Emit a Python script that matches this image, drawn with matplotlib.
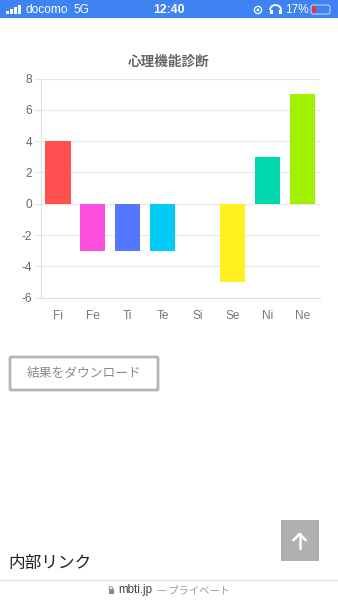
import matplotlib
matplotlib.use('Agg')
import matplotlib.pyplot as plt
from matplotlib.patches import Rectangle, FancyBboxPatch, Circle, Arc

plt.rcParams['font.family'] = ['Noto Sans CJK JP', 'DejaVu Sans']
plt.rcParams['axes.unicode_minus'] = False

# chart values
labels = ['Fi', 'Fe', 'Ti', 'Te', 'Si', 'Se', 'Ni', 'Ne']
values = [4, -3, -3, -3, 0, -5, 3, 7]
colors = ['#ff4f4f', '#ff4de0', '#5577ff', '#00ccf5', '#cccccc', '#fff020', '#00d8ae', '#a0f000']
yticks = [-6, -4, -2, 0, 2, 4, 6, 8]

fig = plt.figure(figsize=(3.38, 6.0), dpi=100)

# page layer, in pixels
page = fig.add_axes([0, 0, 1, 1])
page.set_xlim(0, 338)
page.set_ylim(600, 0)
page.axis('off')

# status bar
page.add_patch(Rectangle((0, 0), 338, 18, color='#3f82f2', lw=0))
for x, top in zip([6, 10, 14, 18], [10.5, 9, 7, 5]):
    page.add_patch(Rectangle((x, top), 3.2, 13.5 - top, color='white', lw=0))
page.text(25, 10, 'docomo', color='white', fontsize=8.6, va='center', family=['Liberation Sans'])
page.text(74, 10, '5G', color='white', fontsize=8.6, va='center', family=['Liberation Sans'])
page.text(169, 10, '12:40', color='white', fontsize=8.8, va='center', ha='center', weight='bold', family=['Liberation Sans'])
page.add_patch(Circle((258, 10), 3.6, fill=False, ec='white', lw=0.9))
page.add_patch(Circle((258, 10), 1.4, color='white', lw=0))
page.add_patch(Arc((275.5, 10), 11, 10, theta1=180, theta2=360, color='white', lw=1.3))
page.add_patch(Rectangle((269.5, 9.5), 3, 4.5, color='white', lw=0))
page.add_patch(Rectangle((278.5, 9.5), 3, 4.5, color='white', lw=0))
page.text(285, 10, '17%', color='white', fontsize=8.6, va='center', family=['Liberation Sans'])
page.add_patch(FancyBboxPatch((311, 5), 19, 9, boxstyle='round,pad=0,rounding_size=2', fc='none', ec='#dfe9fb', lw=0.6))
page.add_patch(Rectangle((312, 6), 4, 7, color='#e0354e', lw=0))

# chart title
page.text(169, 61.5, '心理機能診断', color='#666666', fontsize=9.8, weight='bold', ha='center', va='center')

# download button
page.add_patch(FancyBboxPatch((10, 357), 148, 33, boxstyle='round,pad=0,rounding_size=1.5', fc='white', ec='#b5b5b5', lw=2))
page.text(84, 373.5, '結果をダウンロード', color='#8a8a8a', fontsize=9.2, ha='center', va='center')

# back to top button
page.add_patch(Rectangle((281, 520), 38, 41, color='#b0b0b0', lw=0))
page.plot([299.5, 299.5], [534, 548], color='white', lw=1.8)
page.plot([293.5, 299.5, 305.5], [540, 534, 540], color='white', lw=1.8)

# footer
page.text(8.5, 563, '内部リンク', color='#222222', fontsize=12, va='center')
page.plot([0, 338], [579.5, 579.5], color='#dddddd', lw=0.8)
page.add_patch(Rectangle((108.5, 589), 5, 4.5, color='#8a8a8a', lw=0))
page.add_patch(Circle((111, 588.5), 1.8, fill=False, ec='#8a8a8a', lw=0.7))
page.text(118, 590, 'mbti.jp', color='#444444', fontsize=8.4, va='center', family=['Liberation Sans'])
page.text(157, 590, '— プライベート', color='#9a9a9a', fontsize=7.4, va='center')

# bar chart
ax = fig.add_axes([40.5 / 338, 1 - 297.7 / 600, 279.5 / 338, 219.2 / 600])
ax.patch.set_alpha(0)
ax.bar(range(len(labels)), values, width=0.72, color=colors, zorder=3)
ax.set_xlim(-0.5, 7.5)
ax.set_ylim(-6, 8)
ax.set_yticks(yticks)
ax.set_xticks(range(len(labels)))
ax.set_xticklabels(labels)
ax.grid(axis='y', color='#e8e8e8', lw=0.8, zorder=0)
ax.tick_params(axis='y', length=5, color='#e8e8e8', width=0.8, labelsize=8.6, labelcolor='#666666', pad=1)
ax.tick_params(axis='x', length=0, labelsize=8.6, labelcolor='#777777', pad=9)
for lab in ax.get_xticklabels() + ax.get_yticklabels():
    lab.set_family(['Liberation Sans'])
for side in ['top', 'right']:
    ax.spines[side].set_visible(False)
for side in ['left', 'bottom']:
    ax.spines[side].set_color('#e0e0e0')
    ax.spines[side].set_linewidth(0.8)

fig.savefig('out.png', dpi=100)
